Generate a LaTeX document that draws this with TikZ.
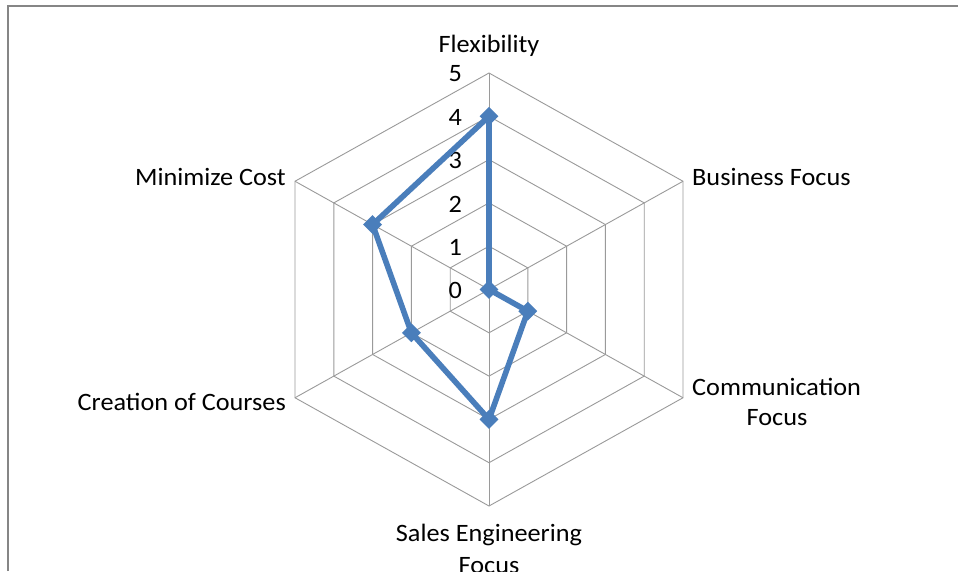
\documentclass[tikz,border=0pt]{standalone}
\usepackage{fontspec}
\setmainfont[FakeStretch=1.05]{Carlito}
\usetikzlibrary{shapes.geometric}
\definecolor{gridgray}{HTML}{9A9A9A}
\definecolor{framegray}{HTML}{868686}
\definecolor{serieblue}{HTML}{4A7EBB}
\tikzset{
  gridline/.style={draw=gridgray, line width=0.9pt},
  spoke/.style={draw=gridgray, line width=0.9pt},
  frameline/.style={draw=framegray, line width=2.2pt},
  series/.style={draw=serieblue, line width=5.6pt, line join=round},
  marker/.style={diamond, fill=serieblue, inner sep=0pt, minimum width=19pt, minimum height=19pt},
  lbl/.style={font=\fontsize{25}{30}\selectfont, inner sep=0pt, text=black},
  num/.style={font=\fontsize{25}{30}\selectfont, inner sep=0pt, anchor=east, text=black}
}
\begin{document}
\begin{tikzpicture}[x=1pt, y=-1pt]
\useasboundingbox (0,0) rectangle (958,571);
\fill[white] (0,0) rectangle (958,571);
% frame (top and left edges only visible)
\coordinate (fbl) at (8,571);
\coordinate (ftl) at (8,6);
\coordinate (ftr) at (958,6);
\draw[frameline] (fbl) -- (ftl) -- (ftr);
% centre and grid
\def\cx{489}
\def\cy{289.5}
\def\hx{38.8}
\def\vy{43.3}
\coordinate (O) at (\cx,\cy);
\foreach \k in {1,...,5}{
  \draw[gridline] (\cx,\cy-\vy*\k) -- (\cx+\hx*\k,\cy-0.5*\vy*\k) -- (\cx+\hx*\k,\cy+0.5*\vy*\k)
    -- (\cx,\cy+\vy*\k) -- (\cx-\hx*\k,\cy+0.5*\vy*\k) -- (\cx-\hx*\k,\cy-0.5*\vy*\k) -- cycle;
}
\coordinate (vF) at (\cx,\cy-5*\vy);
\coordinate (vB) at (\cx+5*\hx,\cy-2.5*\vy);
\coordinate (vC) at (\cx+5*\hx,\cy+2.5*\vy);
\coordinate (vS) at (\cx,\cy+5*\vy);
\coordinate (vCr) at (\cx-5*\hx,\cy+2.5*\vy);
\coordinate (vM) at (\cx-5*\hx,\cy-2.5*\vy);
\foreach \v in {vF,vB,vC,vS,vCr,vM}{ \draw[spoke] (O) -- (\v); }
% scale numbers
\foreach \k in {0,...,5}{
  \node[num] (n\k) at (462,\cy-\vy*\k+1) {\k};
}
% data points
\coordinate (dF) at (\cx,\cy-4*\vy);
\coordinate (dB) at (\cx,\cy);
\coordinate (dC) at (\cx+1*\hx,\cy+0.5*\vy);
\coordinate (dS) at (\cx,\cy+3*\vy);
\coordinate (dCr) at (\cx-2*\hx,\cy+1*\vy);
\coordinate (dM) at (\cx-3*\hx,\cy-1.5*\vy);
\draw[series] (dF) -- (dB) -- (dC) -- (dS) -- (dCr) -- (dM) -- cycle;
\foreach \d in {dF,dB,dC,dS,dCr,dM}{ \node[marker] (m\d) at (\d) {}; }
% axis labels
\node[lbl, anchor=base] (lF) at (489,52) {Flexibility};
\node[lbl, anchor=base west] (lB) at (692,185) {Business Focus};
\node[lbl, anchor=base west] (lC1) at (692,395) {Communication};
\node[lbl, anchor=base] (lC2) at (777,425) {Focus};
\node[lbl, anchor=base] (lS1) at (489,541) {Sales Engineering};
\node[lbl, anchor=base] (lS2) at (489,573) {Focus};
\node[lbl, anchor=base east] (lCr) at (286,410) {Creation of Courses};
\node[lbl, anchor=base east] (lM) at (286,185) {Minimize Cost};
\end{tikzpicture}
\end{document}
